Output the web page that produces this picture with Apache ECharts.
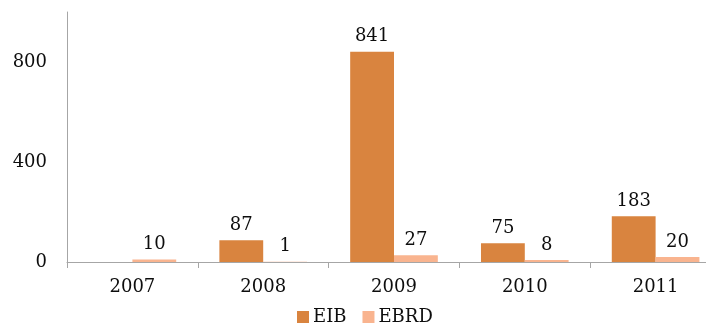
<!DOCTYPE html>
<html>
<head>
<meta charset="utf-8">
<style>
  html, body { margin: 0; padding: 0; background: #ffffff; overflow: hidden; }
  /* canvas is a bit wider than the window so the last category runs off the right edge */
  #chart { width: 722px; height: 324px; }
</style>
<script src="https://cdn.jsdelivr.net/npm/echarts@6/dist/echarts.min.js"></script>
</head>
<body>
<div id="chart"></div>
<script>
// Annual figures per lender
const years = ['2007', '2008', '2009', '2010', '2011'];
const eib = [null, 87, 841, 75, 183];
const ebrd = [10, 1, 27, 8, 20];
const yTicks = [0, 400, 800];

const FONT = '"DejaVu Serif", "Liberation Serif", serif';
const AXIS_GREY = '#a6a6a6';
const TEXT = '#0d0d0d';

const chart = echarts.init(document.getElementById('chart'), null, { renderer: 'canvas' });

const labelStyle = {
  show: true,
  position: 'top',
  distance: 6,
  color: TEXT,
  fontFamily: FONT,
  fontSize: 18
};

chart.setOption({
  animation: false,
  backgroundColor: '#ffffff',
  textStyle: { fontFamily: FONT },
  grid: { left: 67, right: 1, top: 12, bottom: 62, containLabel: false },
  legend: {
    data: ['EIB', 'EBRD'],
    bottom: -7,
    left: 292,
    itemWidth: 12,
    itemHeight: 12,
    itemGap: 16,
    icon: 'rect',
    textStyle: { fontFamily: FONT, fontSize: 18, color: TEXT, padding: [0, 0, 0, -1] }
  },
  xAxis: {
    type: 'category',
    data: years,
    axisLine: { lineStyle: { color: AXIS_GREY, width: 1 } },
    axisTick: { show: true, length: 6, alignWithLabel: false, lineStyle: { color: AXIS_GREY } },
    axisLabel: { color: TEXT, fontFamily: FONT, fontSize: 18, margin: 16 }
  },
  yAxis: {
    type: 'value',
    min: 0,
    max: 1000,
    interval: 400,
    splitLine: { show: false },
    axisLine: { show: true, lineStyle: { color: AXIS_GREY, width: 1 } },
    axisTick: { show: false },
    axisLabel: {
      color: TEXT, fontFamily: FONT, fontSize: 18, margin: 20,
      showMaxLabel: false,
      formatter: v => (yTicks.indexOf(v) >= 0 ? String(v) : '')
    }
  },
  series: [
    {
      name: 'EIB',
      type: 'bar',
      data: eib,
      barGap: '0%',
      barCategoryGap: '33%',
      itemStyle: { color: '#d9843f' },
      label: labelStyle
    },
    {
      name: 'EBRD',
      type: 'bar',
      data: ebrd,
      itemStyle: { color: '#f9b48f' },
      label: labelStyle
    }
  ]
});
</script>
</body>
</html>
